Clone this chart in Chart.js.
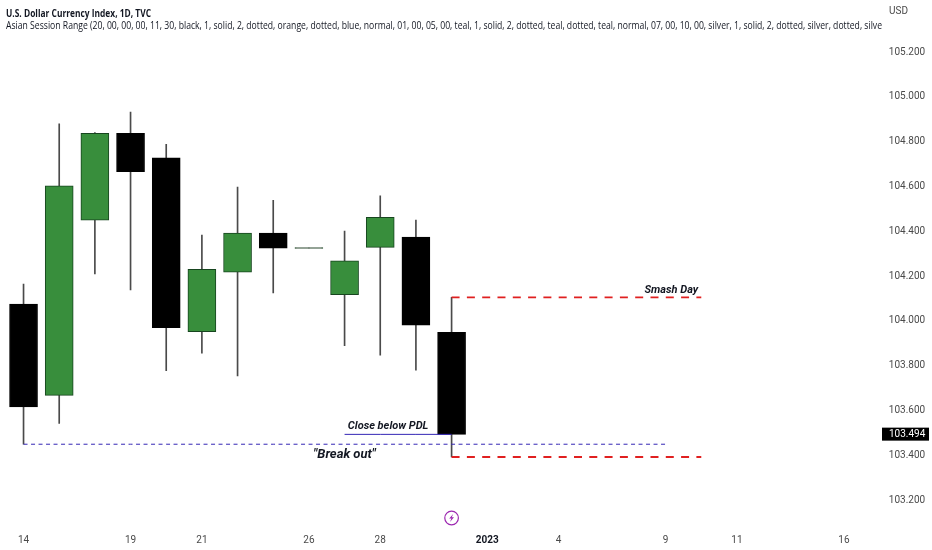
<!DOCTYPE html>
<html>
<head>
<meta charset="utf-8">
<title>U.S. Dollar Currency Index, 1D, TVC</title>
<script src="https://cdn.jsdelivr.net/npm/chart.js@4/dist/chart.umd.min.js"></script>
<style>
    html, body { margin: 0; padding: 0; background: #ffffff; }
    canvas { display: block; }
</style>
</head>
<body>
<canvas id="grafico" width="932" height="550"></canvas>
<script>
// Trading days, only some of them get a label on the axis
const categories = ["14", "15", "16", "19", "20", "21", "22", "23", "26", "27", "28", "29", "30", "2023", "3", "4", "5", "6", "9", "10", "11", "12", "13", "16"];
const shownDayIndexes = [0, 3, 5, 8, 10, 13, 15, 18, 20, 23];
const priceTicks = [103.2, 103.4, 103.6, 103.8, 104.0, 104.2, 104.4, 104.6, 104.8, 105.0, 105.2];

// Candles
const opens = [104.075, 103.667, 104.449, 104.837, 104.728, 103.951, 104.217, 104.392, 104.323, 104.117, 104.328, 104.374, 103.949];
const closes = [103.615, 104.603, 104.837, 104.666, 103.969, 104.230, 104.392, 104.324, 104.327, 104.268, 104.462, 103.981, 103.493];
const highs = [104.164, 104.879, 104.840, 104.932, 104.788, 104.383, 104.597, 104.538, 104.325, 104.401, 104.558, 104.450, 104.105];
const lows = [103.449, 103.542, 104.209, 104.138, 103.777, 103.855, 103.754, 104.125, 104.325, 103.889, 103.847, 103.780, 103.392];

// Drawn levels
const smashHigh = 104.105;
const smashLow = 103.392;
const breakoutLevel = 103.449;
const closeLevel = 103.493;
const lastPrice = 103.494;

const titulo = "U.S. Dollar Currency Index, 1D, TVC";
const indicador = "Asian Session Range (20, 00, 00, 00, 11, 30, black, 1, solid, 2, dotted, orange, dotted, blue, normal, 01, 00, 05, 00, teal, 1, solid, 2, dotted, teal, dotted, teal, normal, 07, 00, 10, 00, silver, 1, solid, 2, dotted, silver, dotted, silve";

const VERDE = "#388e3c";
const VERDE_BORDA = "#17451f";
const TEXTO = "#4a4a4a";

function corpoCor(i) {
    if (i === 8) return "#444444"; // doji
    return closes[i] > opens[i] ? VERDE : "#000000";
}

// A horizontal level between two candles, empty everywhere else
function linhaNivel(y, de, ate, cor, largura, tracos) {
    return {
        type: "line",
        data: categories.map((c, i) => (i >= de && i <= ate ? y : null)),
        borderColor: cor,
        borderWidth: largura,
        borderDash: tracos,
        pointRadius: 0,
        order: 0
    };
}

// Texts and markers that live on top of the chart
const extras = {
    id: "extras",
    afterDatasetsDraw(chart) {
        const ctx = chart.ctx;
        const x = chart.scales.x;
        const y = chart.scales.y;
        ctx.save();
        ctx.textBaseline = "middle";
        ctx.textAlign = "left";

        ctx.fillStyle = "#131722";
        ctx.font = "bold 11px 'Open Sans'";
        ctx.fillText(titulo, 6, 13.5, 145);
        ctx.font = "10.5px 'Open Sans'";
        ctx.fillText(indicador, 6, 26.5, 876);

        ctx.fillStyle = TEXTO;
        ctx.font = "10px Roboto";
        ctx.fillText("USD", 889, 11);

        // Last price tag
        const yPreco = y.getPixelForValue(lastPrice);
        ctx.fillStyle = "#000000";
        ctx.fillRect(882, yPreco - 6.5, 47, 13);
        ctx.fillStyle = "#ffffff";
        ctx.fillText(lastPrice.toFixed(3), 889, yPreco + 0.5);

        // Notes on the chart
        ctx.fillStyle = "#131722";
        ctx.textAlign = "center";
        ctx.font = "italic bold 11px Roboto";
        ctx.fillText("Smash Day", x.getPixelForValue(18.16), y.getPixelForValue(smashHigh) - 7);
        ctx.fillText("Close below PDL", x.getPixelForValue(10.22), y.getPixelForValue(closeLevel) - 8);
        ctx.font = "italic bold 13px Roboto";
        ctx.fillText("\"Break out\"", x.getPixelForValue(9.0), y.getPixelForValue(breakoutLevel) + 10.5);

        // Lightning badge
        const cx = x.getPixelForValue(12);
        const cy = 518;
        ctx.strokeStyle = "#9c27b0";
        ctx.fillStyle = "#9c27b0";
        ctx.lineWidth = 1.2;
        ctx.beginPath();
        ctx.arc(cx, cy, 6.8, 0, Math.PI * 2);
        ctx.stroke();
        ctx.beginPath();
        ctx.moveTo(cx + 1.6, cy - 4);
        ctx.lineTo(cx - 2.4, cy + 0.6);
        ctx.lineTo(cx - 0.2, cy + 0.6);
        ctx.lineTo(cx - 1.6, cy + 4);
        ctx.lineTo(cx + 2.4, cy - 0.8);
        ctx.lineTo(cx + 0.2, cy - 0.8);
        ctx.closePath();
        ctx.fill();
        ctx.restore();
    }
};

new Chart(document.getElementById("grafico"), {
    data: {
        labels: categories,
        datasets: [
            linhaNivel(smashHigh, 12, 19, "#e02020", 1.8, [8, 7.3]),
            linhaNivel(smashLow, 12, 19, "#e02020", 1.8, [8, 7.3]),
            linhaNivel(breakoutLevel, 0, 18, "#3426b5", 1, [4, 3.5]),
            linhaNivel(closeLevel, 9, 12, "#3426b5", 1, []),
            {
                type: "bar",
                data: opens.map((o, i) => [o, closes[i]]),
                backgroundColor: opens.map((o, i) => corpoCor(i)),
                borderColor: opens.map((o, i) => closes[i] > o ? VERDE_BORDA : corpoCor(i)),
                borderWidth: 1,
                borderSkipped: false,
                barThickness: 28,
                grouped: false,
                order: 1
            },
            {
                type: "bar",
                data: highs.map((h, i) => [lows[i], h]),
                backgroundColor: "#4a4a4a",
                barThickness: 1,
                grouped: false,
                order: 2
            }
        ]
    },
    options: {
        responsive: false,
        animation: false,
        events: [],
        layout: { padding: { top: 7.2, left: 5.7, right: 0, bottom: 0 } },
        plugins: {
            legend: { display: false },
            tooltip: { enabled: false }
        },
        scales: {
            x: {
                type: "category",
                offset: true,
                border: { display: false },
                grid: { display: false, drawTicks: false },
                afterFit: (scale) => {
                    scale.height = 27.6;
                    scale.paddingLeft = 0;
                    scale.paddingRight = 0;
                },
                ticks: {
                    autoSkip: false,
                    maxRotation: 0,
                    padding: 12,
                    color: (c) => c.index === 13 ? "#131722" : TEXTO,
                    font: (c) => c.index === 13
                        ? { family: "Roboto", size: 10, weight: "bold" }
                        : { family: "Roboto", size: 10 },
                    callback: (valor, i) => shownDayIndexes.includes(i) ? categories[i] : ""
                }
            },
            y: {
                type: "linear",
                position: "right",
                min: 103.1,
                max: 105.4,
                border: { display: false },
                grid: { display: false, drawTicks: false },
                afterFit: (scale) => {
                    scale.width = 70.2;
                    // tick padding would otherwise push the plot down from the top
                    scale.paddingTop = 0;
                    scale.paddingBottom = 0;
                },
                afterBuildTicks: (scale) => { scale.ticks = priceTicks.map(v => ({ value: v })); },
                ticks: {
                    padding: 27,
                    color: TEXTO,
                    font: { family: "Roboto", size: 10 },
                    callback: (valor) => valor.toFixed(3)
                }
            }
        }
    },
    plugins: [extras]
});
</script>
</body>
</html>
